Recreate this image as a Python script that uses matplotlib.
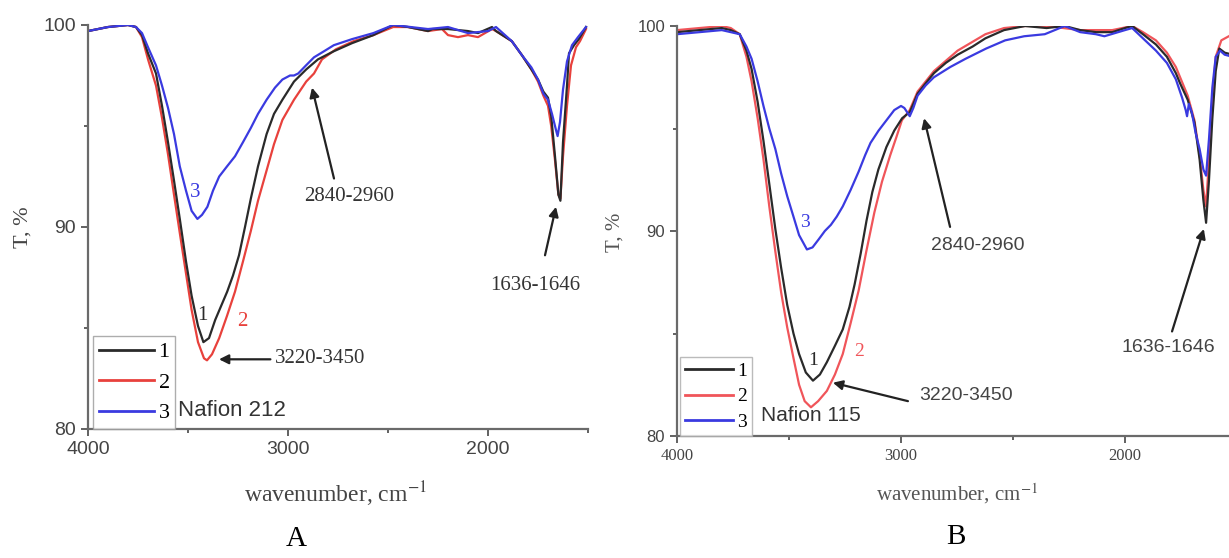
import matplotlib
matplotlib.use("Agg")
import matplotlib.pyplot as plt
from matplotlib.lines import Line2D

plt.rcParams["mathtext.fontset"] = "stix"

SERIF = "Liberation Serif"
SANS = "Liberation Sans"

# ---------------- Panel A (Nafion 212) ----------------
a1_wn = [4000, 3900, 3800, 3760, 3730, 3700, 3660, 3630, 3600, 3570, 3541, 3510, 3482, 3450,
         3423, 3395, 3364, 3334, 3304, 3275, 3245, 3215, 3186, 3150, 3107, 3070, 3028, 2970,
         2909, 2850, 2771, 2680, 2573, 2474, 2400, 2300, 2277, 2200, 2100, 2050, 1980, 1960,
         1881, 1830, 1783, 1750, 1723, 1700, 1684, 1665, 1648, 1638, 1625, 1605, 1595, 1570,
         1546, 1510]
a1_t = [99.7, 99.9, 100, 99.9, 99.5, 98.6, 97.6, 96.0, 94.2, 92.3, 90.4, 88.3, 86.6, 85.1,
        84.3, 84.5, 85.4, 86.1, 86.8, 87.6, 88.6, 90.0, 91.4, 93.0, 94.6, 95.6, 96.3, 97.2,
        97.8, 98.3, 98.7, 99.1, 99.5, 100, 99.9, 99.7, 99.8, 99.8, 99.7, 99.6, 99.9, 99.7,
        99.2, 98.5, 97.8, 97.3, 96.7, 96.4, 95.5, 93.5, 91.6, 91.3, 94.2, 97.0, 98.6, 99.0,
        99.3, 99.9]

a2_wn = [4000, 3900, 3800, 3760, 3730, 3700, 3660, 3630, 3600, 3570, 3541, 3510, 3482, 3450,
         3420, 3405, 3380, 3344, 3305, 3265, 3225, 3186, 3150, 3107, 3070, 3028, 2970, 2909,
         2870, 2830, 2760, 2672, 2573, 2474, 2400, 2300, 2230, 2200, 2150, 2100, 2050, 1980,
         1960, 1881, 1830, 1783, 1750, 1723, 1700, 1684, 1665, 1648, 1638, 1625, 1605, 1585,
         1560, 1540, 1510]
a2_t = [99.7, 99.9, 100, 99.9, 99.4, 98.3, 97.0, 95.4, 93.6, 91.6, 89.7, 87.7, 85.9, 84.3,
        83.5, 83.4, 83.7, 84.5, 85.6, 86.8, 88.3, 89.8, 91.3, 92.8, 94.1, 95.3, 96.3, 97.2,
        97.6, 98.3, 98.8, 99.2, 99.5, 99.9, 99.9, 99.7, 99.8, 99.5, 99.4, 99.5, 99.4, 99.8,
        99.7, 99.2, 98.5, 97.8, 97.2, 96.5, 96.0, 95.0, 93.3, 91.6, 91.4, 93.5, 96.0, 98.0,
        98.9, 99.2, 99.8]

a3_wn = [4000, 3900, 3800, 3760, 3730, 3700, 3660, 3630, 3600, 3570, 3541, 3510, 3482, 3453,
         3430, 3403, 3375, 3344, 3305, 3265, 3225, 3186, 3150, 3107, 3065, 3028, 2990, 2970,
         2949, 2910, 2870, 2820, 2771, 2680, 2573, 2474, 2300, 2200, 2100, 2000, 1960, 1881,
         1830, 1783, 1750, 1723, 1700, 1680, 1660, 1652, 1640, 1625, 1605, 1580, 1550, 1510]
a3_t = [99.7, 99.9, 100, 99.9, 99.6, 98.9, 98.0, 97.0, 95.9, 94.6, 93.0, 91.8, 90.8, 90.4,
        90.6, 91.0, 91.8, 92.5, 93.0, 93.5, 94.2, 94.9, 95.6, 96.3, 96.9, 97.3, 97.5, 97.5,
        97.6, 98.0, 98.4, 98.7, 99.0, 99.3, 99.6, 100, 99.8, 99.9, 99.6, 99.7, 99.9, 99.2,
        98.5, 97.9, 97.3, 96.6, 96.3, 95.6, 94.8, 94.5, 95.2, 96.8, 98.2, 99.0, 99.4, 99.9]

# ---------------- Panel B (Nafion 115) ----------------
b1_wn = [4000, 3900, 3800, 3760, 3720, 3690, 3667, 3640, 3614, 3588, 3561, 3535, 3508, 3480,
         3455, 3425, 3393, 3362, 3331, 3295, 3260, 3230, 3207, 3180, 3154, 3128, 3101, 3065,
         3030, 2995, 2961, 2945, 2926, 2890, 2853, 2800, 2747, 2680, 2623, 2540, 2446, 2350,
         2269, 2200, 2130, 2057, 2000, 1968, 1920, 1862, 1813, 1773, 1754, 1720, 1690, 1667,
         1650, 1638, 1625, 1610, 1595, 1579, 1555, 1520]
b1_t = [99.7, 99.8, 99.9, 99.8, 99.6, 98.8, 97.9, 96.3, 94.4, 92.3, 90.1, 88.2, 86.4, 85.0,
        84.0, 83.1, 82.7, 83.0, 83.6, 84.4, 85.2, 86.3, 87.4, 88.9, 90.5, 91.9, 93.0, 94.1,
        94.9, 95.5, 95.8, 96.2, 96.7, 97.2, 97.7, 98.2, 98.6, 99.0, 99.4, 99.8, 100, 99.9,
        100, 99.8, 99.7, 99.7, 99.9, 100, 99.6, 99.1, 98.5, 97.7, 97.2, 96.4, 95.3, 93.5,
        91.5, 90.4, 92.5, 95.5, 97.8, 98.9, 98.7, 98.6]

b2_wn = [4000, 3900, 3800, 3760, 3720, 3690, 3667, 3640, 3614, 3588, 3561, 3535, 3508, 3480,
         3455, 3430, 3402, 3370, 3331, 3295, 3260, 3225, 3189, 3155, 3119, 3085, 3048, 3020,
         2996, 2961, 2926, 2853, 2747, 2623, 2540, 2446, 2350, 2200, 2057, 1968, 1920, 1862,
         1813, 1773, 1720, 1690, 1667, 1650, 1638, 1625, 1610, 1595, 1570, 1520]
b2_t = [99.8, 99.9, 100, 99.9, 99.6, 98.5, 97.3, 95.5, 93.5, 91.2, 89.0, 87.0, 85.3, 83.8,
        82.5, 81.7, 81.4, 81.7, 82.2, 83.0, 84.0, 85.5, 87.1, 89.0, 90.9, 92.4, 93.7, 94.6,
        95.4, 95.9, 96.8, 97.8, 98.8, 99.6, 99.9, 100, 100, 99.8, 99.8, 100, 99.7, 99.3,
        98.7, 98.0, 96.6, 95.4, 93.7, 92.0, 91.2, 93.5, 96.5, 98.5, 99.3, 99.6]

b3_wn = [4000, 3900, 3800, 3760, 3720, 3690, 3667, 3640, 3614, 3588, 3561, 3535, 3508, 3480,
         3455, 3420, 3395, 3367, 3340, 3313, 3287, 3260, 3225, 3189, 3160, 3136, 3100, 3065,
         3030, 3000, 2985, 2961, 2945, 2926, 2890, 2853, 2780, 2712, 2620, 2535, 2450, 2358,
         2269, 2200, 2130, 2092, 2000, 1968, 1920, 1862, 1813, 1773, 1745, 1729, 1723, 1715,
         1702, 1685, 1667, 1650, 1638, 1625, 1610, 1595, 1576, 1555, 1520]
b3_t = [99.6, 99.7, 99.8, 99.7, 99.6, 99.0, 98.4, 97.3, 96.1, 95.0, 94.0, 92.8, 91.7, 90.7,
        89.8, 89.1, 89.2, 89.6, 90.0, 90.3, 90.7, 91.2, 92.0, 92.9, 93.7, 94.3, 94.9, 95.4,
        95.9, 96.1, 96.0, 95.6, 96.0, 96.6, 97.1, 97.5, 98.0, 98.4, 98.9, 99.3, 99.5, 99.6,
        100, 99.7, 99.6, 99.5, 99.8, 99.9, 99.4, 98.8, 98.2, 97.4, 96.5, 95.9, 95.6, 96.2,
        95.8, 94.8, 94.0, 93.0, 92.7, 94.5, 97.0, 98.5, 98.8, 98.6, 98.5]

c_black, c_red, c_blue = "#2a2a2a", "#e8413c", "#3a3ae0"
c_red_b = "#f0555a"

W, H = 1229, 558
fig = plt.figure(figsize=(W / 100, H / 100), dpi=100)


def px_axes(left, top, right, bottom):
    return fig.add_axes([left / W, 1 - bottom / H, (right - left) / W, (bottom - top) / H])


def style_axes(ax, tick_font, tick_size, xtick_font, xtick_size):
    ax.set_xlim(4000, 1500)
    ax.set_ylim(80, 100)
    for s in ["top", "right"]:
        ax.spines[s].set_visible(False)
    for s in ["left", "bottom"]:
        ax.spines[s].set_color("#6a6a6a")
        ax.spines[s].set_linewidth(1.6)
    ax.set_xticks([4000, 3000, 2000])
    ax.set_xticks([3500, 2500, 1500], minor=True)
    ax.set_yticks([80, 90, 100])
    ax.set_yticks([85, 95], minor=True)
    ax.tick_params(which="major", direction="out", length=5, width=1.3, color="#555")
    ax.tick_params(which="minor", direction="out", length=3, width=1.3, color="#555")
    for lab in ax.get_yticklabels():
        lab.set_fontfamily(tick_font)
        lab.set_fontsize(tick_size)
        lab.set_color("#444")
    for lab in ax.get_xticklabels():
        lab.set_fontfamily(xtick_font)
        lab.set_fontsize(xtick_size)
        lab.set_color("#444")
    ax.patch.set_alpha(0)


def arrow(ax, tip, tail):
    ax.annotate("", xy=tip, xytext=tail,
                arrowprops=dict(arrowstyle="-|>", color="#222", lw=1.6, mutation_scale=14,
                                shrinkA=0, shrinkB=0))


# ---- A ----
axA = px_axes(88, 25, 588, 429)
axA.plot(a2_wn, a2_t, color=c_red, lw=1.6)
axA.plot(a1_wn, a1_t, color=c_black, lw=1.6)
axA.plot(a3_wn, a3_t, color=c_blue, lw=1.6)
style_axes(axA, SANS, 14, SANS, 14)

handles = [Line2D([], [], color=c, lw=2) for c in (c_black, c_red, c_blue)]
legA = axA.legend(handles, ["1", "2", "3"], loc="lower left", bbox_to_anchor=(0.01, 0.0),
                  borderaxespad=0, frameon=True, fancybox=False, edgecolor="#999",
                  prop={"family": SERIF, "size": 16}, handlelength=2.5, handletextpad=0.2,
                  labelspacing=0.45, borderpad=0.25)
legA.get_frame().set_linewidth(1.0)
axA.text(0.18, 0.047, "Nafion 212", transform=axA.transAxes, family=SANS, fontsize=16,
         color="#333", va="center", ha="left")

axA.text(3462, 91.7, "3", color=c_blue, family=SERIF, fontsize=15, ha="center", va="center")
axA.text(3430, 85.6, "1", color=c_black, family=SERIF, fontsize=15, ha="center", va="center")
axA.text(3230, 85.3, "2", color=c_red, family=SERIF, fontsize=15, ha="center", va="center")

axA.text(2840, 83.5, "3220-3450", family=SERIF, fontsize=15, color="#333", ha="center", va="center")
arrow(axA, (3345, 83.45), (3088, 83.45))
axA.text(2692, 91.5, "2840-2960", family=SERIF, fontsize=15, color="#333", ha="center", va="center")
arrow(axA, (2880, 96.9), (2770, 92.4))
axA.text(1765, 87.1, "1636-1646", family=SERIF, fontsize=15, color="#333", ha="center", va="center")
arrow(axA, (1660, 91.0), (1715, 88.6))

fig.text(23 / W, 1 - 227 / H, "T, %", family=SERIF, fontsize=16, color="#444",
         rotation=90, ha="center", va="center")
fig.text(335 / W, 1 - 494 / H, "wavenumber, cm$^{-1}$", family=SERIF, fontsize=17,
         color="#444", ha="center", va="center")
fig.text(296 / W, 1 - 539 / H, "A", family=SERIF, fontsize=21, color="black",
         ha="center", va="center")

# ---- B ----
axB = px_axes(677, 26, 1237, 436)
axB.plot(b2_wn, b2_t, color=c_red_b, lw=1.6)
axB.plot(b1_wn, b1_t, color=c_black, lw=1.6)
axB.plot(b3_wn, b3_t, color=c_blue, lw=1.6)
style_axes(axB, SANS, 12, SERIF, 12)

handlesB = [Line2D([], [], color=c, lw=2) for c in (c_black, c_red_b, c_blue)]
legB = axB.legend(handlesB, ["1", "2", "3"], loc="lower left", bbox_to_anchor=(0.005, 0.0),
                  borderaxespad=0, frameon=True, fancybox=False, edgecolor="#aaa",
                  prop={"family": SERIF, "size": 14}, handlelength=2.5, handletextpad=0.2,
                  labelspacing=0.42, borderpad=0.25)
legB.get_frame().set_linewidth(1.0)
axB.text(0.15, 0.051, "Nafion 115", transform=axB.transAxes, family=SANS, fontsize=15,
         color="#333", va="center", ha="left")

axB.text(3429, 90.4, "3", color=c_blue, family=SERIF, fontsize=14, ha="center", va="center")
axB.text(3393, 83.7, "1", color=c_black, family=SERIF, fontsize=14, ha="center", va="center")
axB.text(3187, 84.1, "2", color=c_red_b, family=SERIF, fontsize=14, ha="center", va="center")

axB.text(2710, 82.0, "3220-3450", family=SANS, fontsize=14, color="#444", ha="center", va="center")
arrow(axB, (3304, 82.6), (2969, 81.7))
axB.text(2656, 89.3, "2840-2960", family=SANS, fontsize=14, color="#444", ha="center", va="center")
arrow(axB, (2897, 95.5), (2781, 90.2))
axB.text(1808, 84.3, "1636-1646", family=SANS, fontsize=14, color="#444", ha="center", va="center")
arrow(axB, (1648, 90.1), (1790, 85.1))

fig.text(615 / W, 1 - 232 / H, "T, %", family=SERIF, fontsize=15, color="#555",
         rotation=90, ha="center", va="center")
fig.text(957 / W, 1 - 494 / H, "wavenumber, cm$^{-1}$", family=SERIF, fontsize=15,
         color="#555", ha="center", va="center")
fig.text(956 / W, 1 - 537 / H, "B", family=SERIF, fontsize=21, color="black",
         ha="center", va="center")

fig.savefig("out.png", dpi=100)
